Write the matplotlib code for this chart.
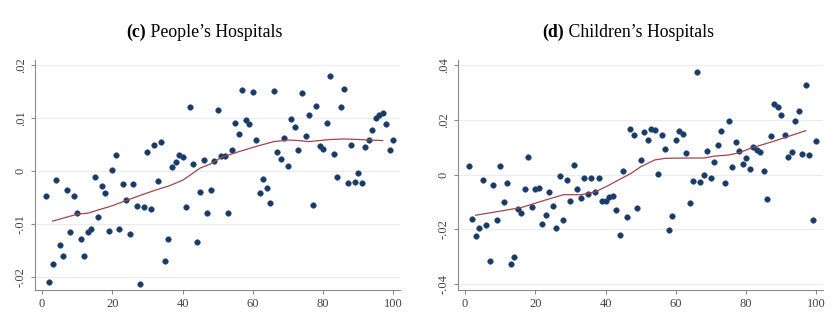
import numpy as np
import matplotlib
matplotlib.use('Agg')
import matplotlib.pyplot as plt
from matplotlib.ticker import FuncFormatter

plt.rcParams['font.family'] = ['Liberation Serif', 'DejaVu Serif']

pct = np.arange(1, 101)

people = [-0.0048, -0.0209, -0.0175, -0.0017, -0.0140, -0.0161, -0.0036, -0.0116, -0.0048, -0.0079,
          -0.0128, -0.0161, -0.0116, -0.0109, -0.0011, -0.0087, -0.0028, -0.0042, -0.0114, 0.0001,
          0.0030, -0.0109, -0.0025, -0.0056, -0.0119, -0.0025, -0.0066, -0.0213, -0.0069, 0.0035,
          -0.0072, 0.0048, -0.0019, 0.0055, -0.0170, -0.0128, 0.0008, 0.0016, 0.0029, 0.0026,
          -0.0069, 0.0121, 0.0012, -0.0135, -0.0040, 0.0020, -0.0079, -0.0036, 0.0019, 0.0115,
          0.0028, 0.0027, -0.0079, 0.0040, 0.0090, 0.0069, 0.0152, 0.0095, 0.0089, 0.0148,
          0.0058, -0.0042, -0.0016, -0.0032, -0.0060, 0.0150, 0.0035, 0.0023, 0.0062, 0.0009,
          0.0098, 0.0083, 0.0040, 0.0147, 0.0065, 0.0105, -0.0064, 0.0123, 0.0047, 0.0042,
          0.0090, 0.0179, 0.0032, -0.0011, 0.0120, 0.0155, -0.0023, 0.0049, -0.0021, -0.0005,
          -0.0023, 0.0045, 0.0058, 0.0076, 0.0099, 0.0106, 0.0109, 0.0089, 0.0039, 0.0058]

children = [0.0031, -0.0162, -0.0223, -0.0196, -0.0019, -0.0184, -0.0315, -0.0038, -0.0165, 0.0032,
            -0.0101, -0.0029, -0.0327, -0.0299, -0.0126, -0.0141, -0.0052, 0.0066, -0.0119, -0.0053,
            -0.0049, -0.0179, -0.0146, -0.0062, -0.0114, -0.0195, -0.0004, -0.0165, -0.0018, -0.0097,
            0.0035, -0.0051, -0.0084, -0.0011, -0.0070, -0.0011, -0.0062, -0.0011, -0.0095, -0.0095,
            -0.0083, -0.0077, -0.0128, -0.0220, 0.0015, -0.0154, 0.0168, 0.0144, -0.0122, 0.0053,
            0.0156, 0.0128, 0.0168, 0.0162, 0.0001, 0.0146, 0.0093, -0.0201, -0.0152, 0.0127,
            0.0160, 0.0150, 0.0078, -0.0102, -0.0022, 0.0375, -0.0026, -0.0001, 0.0088, -0.0013,
            0.0046, 0.0110, 0.0158, -0.0029, 0.0195, 0.0027, 0.0119, 0.0085, 0.0040, 0.0062,
            0.0020, 0.0100, 0.0089, 0.0082, 0.0015, -0.0088, 0.0141, 0.0258, 0.0247, 0.0217,
            0.0145, 0.0065, 0.0082, 0.0197, 0.0234, 0.0076, 0.0328, 0.0071, -0.0165, 0.0123]

# smoothed fit
people_fit_x = [3, 10, 13, 16, 20, 24, 29, 33, 36, 40, 42, 45, 48, 51, 56, 61, 66, 70, 73, 76, 79, 82, 86, 90, 93, 97]
people_fit_y = [-0.0095, -0.0082, -0.0080, -0.0074, -0.0066, -0.0056, -0.0044, -0.0035, -0.0029, -0.0018,
                -0.0009, 0.0005, 0.0013, 0.0025, 0.0036, 0.0046, 0.0055, 0.0058, 0.0057, 0.0055,
                0.0057, 0.0059, 0.0060, 0.0059, 0.0058, 0.0057]
children_fit_x = [3, 16, 23, 28, 33, 37, 41, 44, 47, 50, 54, 57, 63, 68, 71, 75, 78, 82, 85, 89, 93, 97]
children_fit_y = [-0.0148, -0.0120, -0.0092, -0.0073, -0.0073, -0.0063, -0.0038, -0.0017, 0.0003, 0.0029,
                  0.0054, 0.0060, 0.0061, 0.0061, 0.0068, 0.0072, 0.0080, 0.0100, 0.0111, 0.0127,
                  0.0144, 0.0161]

x_ticks = [0, 20, 40, 60, 80, 100]
people_yticks = [-0.02, -0.01, 0, 0.01, 0.02]
children_yticks = [-0.04, -0.02, 0, 0.02, 0.04]


def stata_fmt(v, pos):
    s = f'{v:g}'
    if s.startswith('0.'):
        s = s[1:]
    elif s.startswith('-0.'):
        s = '-' + s[2:]
    return s


def style_axis(ax, yticks, ylim):
    ax.set_xlim(-2, 101.9)
    ax.set_ylim(*ylim)
    ax.set_xticks(x_ticks)
    ax.set_yticks(yticks)
    ax.yaxis.set_major_formatter(FuncFormatter(stata_fmt))
    for lab in ax.get_yticklabels():
        lab.set_rotation(90)
        lab.set_va('center')
    for side in ['top', 'right']:
        ax.spines[side].set_visible(False)
    for side in ['left', 'bottom']:
        ax.spines[side].set_color('#8a8a8a')
        ax.spines[side].set_linewidth(0.8)
    ax.tick_params(axis='both', direction='out', length=3, width=0.8, color='#8a8a8a',
                   labelsize=9, labelcolor='#444444', pad=3)
    ax.grid(axis='y', color='#ececec', linewidth=0.8)
    ax.set_axisbelow(True)


fig = plt.figure(figsize=(8.4, 3.31), dpi=100)
fig.patch.set_facecolor('white')

ax1 = fig.add_axes([35 / 840, 41 / 331, 365 / 840, 230 / 331])
ax2 = fig.add_axes([458 / 840, 41 / 331, 365 / 840, 230 / 331])

ax1.scatter(pct, people, s=16, color='#1a3a66', edgecolors='#2c4f80', linewidths=0.4, zorder=3)
ax1.plot(people_fit_x, people_fit_y, color='#a0454e', linewidth=0.9, zorder=4)
style_axis(ax1, people_yticks, (-0.0225, 0.0209))

ax2.scatter(pct, children, s=16, color='#1a3a66', edgecolors='#2c4f80', linewidths=0.4, zorder=3)
ax2.plot(children_fit_x, children_fit_y, color='#a0454e', linewidth=0.9, zorder=4)
style_axis(ax2, children_yticks, (-0.0421, 0.0419))

# panel titles: bold letter, regular name
for x0, letter, name in [(126, '(c)', ' People\u2019s Hospitals'), (542, '(d)', ' Children\u2019s Hospitals')]:
    t = fig.text(x0 / 840, 1 - 37 / 331, letter, fontsize=12.8, fontweight='bold', va='baseline')
    fig.canvas.draw()
    plt.annotate(name, xy=(1, 0), xycoords=t, fontsize=12.8, va='bottom', ha='left',
                 annotation_clip=False)

fig.savefig('out.png', dpi=100, facecolor='white')
plt.close(fig)
